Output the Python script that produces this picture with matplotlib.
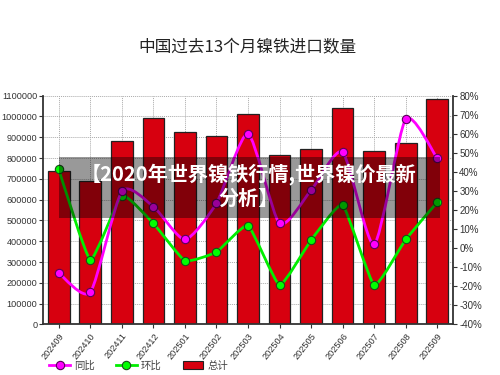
import numpy as np
import matplotlib
matplotlib.use("Agg")
import matplotlib.pyplot as plt
from matplotlib.path import Path
from matplotlib.patches import PathPatch, Patch, Rectangle
from matplotlib.lines import Line2D
from matplotlib.ticker import FuncFormatter, MultipleLocator

plt.rcParams['font.family'] = ['Liberation Sans', 'Noto Sans CJK SC', 'DejaVu Sans']

months = ["202409", "202410", "202411", "202412", "202501", "202502", "202503",
          "202504", "202505", "202506", "202507", "202508", "202509"]
total = [737000, 690000, 882000, 991000, 925000, 905000, 1012000,
         816000, 845000, 1039000, 834000, 874000, 1083000]
yoy = [-13.0, -23.1, 29.8, 21.8, 4.6, 23.6, 60.0, 13.0, 30.4, 50.4, 2.0, 67.7, 47.1]
mom = [41.3, -6.0, 27.6, 13.0, -6.5, -2.0, 11.9, -19.3, 4.2, 22.7, -19.3, 4.6, 24.1]

title = "中国过去13个月镍铁进口数量"
overlay = "【2020年世界镍铁行情,世界镍价最新\n分析】"
legend_labels = ["同比", "环比", "总计"]

bar_color = "#d7000f"
mag = "#ff00ff"
grn = "#00ee00"
axis_col = "#333333"
txt_col = "#333333"

fig = plt.figure(figsize=(5, 3.75), dpi=100)
ax = fig.add_axes([0.086, 0.1347, 0.82, 0.6101])
x = np.arange(len(months))

ax.bar(x, total, width=0.69, color=bar_color, edgecolor="#222222", linewidth=0.9, zorder=2)
ax.set_xlim(-0.5, len(months) - 0.5)
ax.set_ylim(0, 1100000)
ax.yaxis.set_major_locator(MultipleLocator(100000))
ax.yaxis.set_major_formatter(FuncFormatter(lambda v, p: f"{int(round(v))}"))
ax.set_xticks(x)
ax.set_xticklabels(months, rotation=52, ha="right", rotation_mode="anchor")
ax.grid(True, which="major", color="#aaaaaa", linestyle=(0, (1, 1)), linewidth=0.7, zorder=0)
ax.set_axisbelow(True)
ax.tick_params(axis="both", labelsize=6.6, colors=axis_col, length=3, width=0.8, labelcolor=txt_col)
ax.tick_params(axis="y", pad=1)
ax.tick_params(axis="x", pad=2)
for s in ["left", "bottom"]:
    ax.spines[s].set_color(axis_col)
    ax.spines[s].set_linewidth(1.3)
ax.spines["top"].set_visible(False)
ax.spines["right"].set_visible(False)

ax2 = ax.twinx()
ax2.set_ylim(-40, 80)
ax2.yaxis.set_major_locator(MultipleLocator(10))
ax2.yaxis.set_major_formatter(FuncFormatter(lambda v, p: f"{int(round(v))}%"))
ax2.tick_params(axis="y", labelsize=7, colors=axis_col, length=3, width=0.8, labelcolor=txt_col, pad=1.5)
ax2.spines["right"].set_color(axis_col)
ax2.spines["right"].set_linewidth(1.3)
for s in ["top", "left", "bottom"]:
    ax2.spines[s].set_visible(False)


def smooth_path(xs, ys, t):
    pts = np.column_stack([xs, ys]).astype(float)
    verts = [pts[0]]
    codes = [Path.MOVETO]
    n = len(pts)
    for i in range(n - 1):
        p0 = pts[i - 1] if i > 0 else pts[i]
        p1 = pts[i]
        p2 = pts[i + 1]
        p3 = pts[i + 2] if i + 2 < n else pts[i + 1]
        c1 = p1 + (p2 - p0) * t
        c2 = p2 - (p3 - p1) * t
        verts += [c1, c2, p2]
        codes += [Path.CURVE4] * 3
    return Path(verts, codes)


ax2.add_patch(PathPatch(smooth_path(x, mom, 0.07), facecolor="none", edgecolor=grn,
                        linewidth=2, zorder=3))
ax2.plot(x, mom, linestyle="none", marker="o", markersize=6, markerfacecolor="#00ff00",
         markeredgecolor="#1a4d1a", markeredgewidth=0.8, zorder=4)
ax2.add_patch(PathPatch(smooth_path(x, yoy, 0.11), facecolor="none", edgecolor=mag,
                        linewidth=2, zorder=5))
ax2.plot(x, yoy, linestyle="none", marker="o", markersize=6, markerfacecolor=mag,
         markeredgecolor="#5a005a", markeredgewidth=0.8, zorder=6)

fig.text(0.495, 0.872, title, ha="center", va="center", fontsize=12, color="#222222",
         family=["Noto Sans CJK SC", "DejaVu Sans"])

# overlay band
fig.patches.append(Rectangle((59 / 500, 1 - 218.3 / 375), (440 - 59) / 500, (218.3 - 156.7) / 375,
                             transform=fig.transFigure, facecolor="black", alpha=0.4,
                             edgecolor="none", zorder=10))
fig.text(0.498, 1 - 186 / 375, overlay, ha="center", va="center", fontsize=14.5,
         color="white", fontweight="bold", linespacing=1.12, zorder=11,
         family=["Noto Sans CJK SC", "DejaVu Sans"])

handles = [
    Line2D([], [], color=mag, linewidth=2, marker="o", markersize=6,
           markerfacecolor=mag, markeredgecolor="#5a005a", markeredgewidth=0.8),
    Line2D([], [], color=grn, linewidth=2, marker="o", markersize=6,
           markerfacecolor="#00ff00", markeredgecolor="#1a4d1a", markeredgewidth=0.8),
    Patch(facecolor=bar_color, edgecolor="#222222", linewidth=0.8),
]
leg = fig.legend(handles, legend_labels, loc="center left", bbox_to_anchor=(0.08, 0.025),
                 ncol=3, frameon=False, fontsize=7.5, handlelength=2.0, handletextpad=0.4,
                 columnspacing=2.0, labelcolor="#444444")

fig.savefig("out.png", dpi=100)
